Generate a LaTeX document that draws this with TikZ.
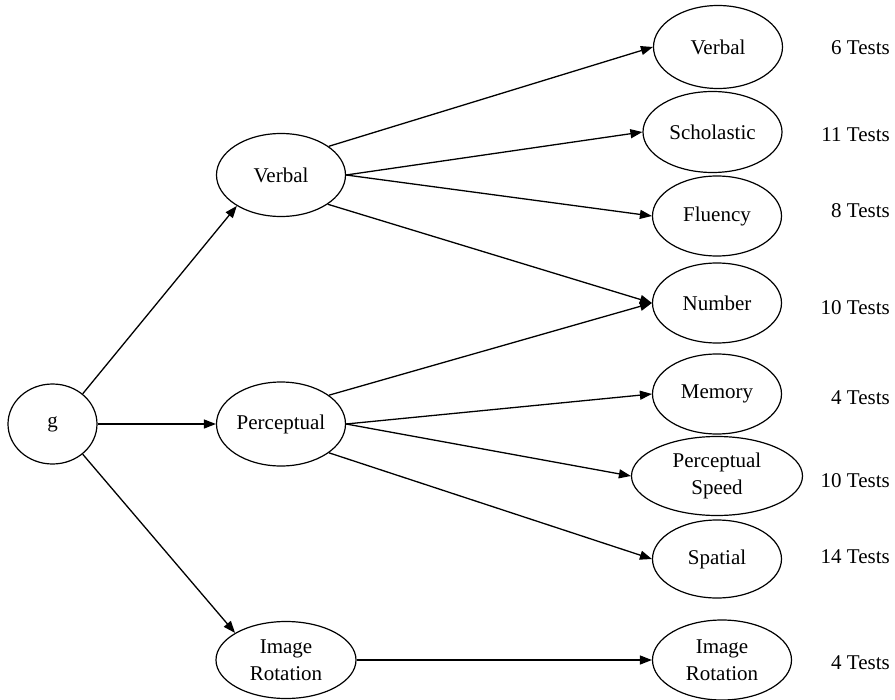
\documentclass[tikz,border=0pt]{standalone}
\usepackage{fontspec}
\setmainfont{Liberation Serif}
\usetikzlibrary{shapes.geometric,arrows.meta}
\begin{document}
\begin{tikzpicture}[x=1bp,y=-1bp,
  ov/.style={draw,ellipse,line width=1.2bp,inner sep=0pt,align=center,
    minimum width=129bp,minimum height=81bp,
    font=\fontsize{21bp}{27bp}\selectfont},
  lab/.style={anchor=east,inner sep=0pt,font=\fontsize{21bp}{27bp}\selectfont},
  arr/.style={-{Triangle[length=12bp,width=9bp]},line width=1.3bp}]
\useasboundingbox (0,0) rectangle (895,700);
% left and middle
\node[ov,minimum width=89bp,minimum height=80bp] (g) at (52.5,424) {g};
\node[ov,minimum height=83bp] (vm) at (281,175) {Verbal};
\node[ov,minimum height=84bp] (pm) at (281,424) {Perceptual};
\node[ov,minimum width=140bp,minimum height=77bp] (im) at (286,660) {Image\\Rotation};
% right column
\node[ov,minimum height=83bp] (vr) at (718,47) {Verbal};
\node[ov,minimum width=139bp] (sc) at (712.5,132) {Scholastic};
\node[ov,minimum height=80bp] (fl) at (717,216) {Fluency};
\node[ov,minimum height=80bp] (nu) at (717,303) {Number};
\node[ov,minimum height=80bp] (me) at (717,394) {Memory};
\node[ov,minimum width=171bp,minimum height=79bp] (ps) at (717,476) {Perceptual\\Speed};
\node[ov,minimum height=78bp] (sp) at (717,559) {Spatial};
\node[ov,minimum width=139bp,minimum height=80bp] (ir) at (722,660) {Image\\Rotation};
% test counts
\node[lab] (t1) at (890,48) {6 Tests};
\node[lab] (t2) at (890,135) {11 Tests};
\node[lab] (t3) at (890,211) {8 Tests};
\node[lab] (t4) at (890,308) {10 Tests};
\node[lab] (t5) at (890,398) {4 Tests};
\node[lab] (t6) at (890,481) {10 Tests};
\node[lab] (t7) at (890,557) {14 Tests};
\node[lab] (t8) at (890,663) {4 Tests};
% connectors
\draw[arr] (g.45) -- (vm.215);
\draw[arr] (g.east) -- (pm.west);
\draw[arr] (g.-45) -- (im.152);
\draw[arr] (vm.31) -- (vr.west);
\draw[arr] (vm.east) -- (sc.west);
\draw[arr] (vm.east) -- (fl.west);
\draw[arr] (vm.-32) -- (nu.west);
\draw[arr] (pm.31) -- (nu.west);
\draw[arr] (pm.east) -- (me.west);
\draw[arr] (pm.east) -- (ps.west);
\draw[arr] (pm.-31) -- (sp.west);
\draw[arr] (im.east) -- (ir.west);
\end{tikzpicture}
\end{document}
